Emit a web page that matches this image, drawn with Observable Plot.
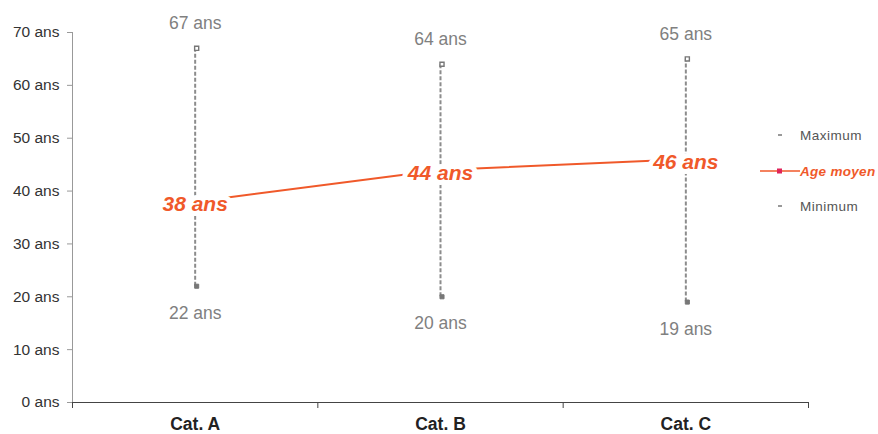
<!DOCTYPE html>
<html>
<head>
<meta charset="utf-8">
<script src="https://cdn.jsdelivr.net/npm/d3@7"></script>
<script src="https://cdn.jsdelivr.net/npm/@observablehq/plot@0.6"></script>
<style>
  html, body { margin: 0; padding: 0; background: #fff; }
  #wrap { position: relative; width: 878px; height: 434px; font-family: "Liberation Sans", Arial, sans-serif; }
  .leg { position: absolute; left: 758px; font-size: 13.5px; color: #555; display: flex; align-items: center; height: 16px; letter-spacing: 0.5px; }
  .leg .sw { width: 42px; position: relative; height: 16px; }
</style>
</head>
<body>
<div id="wrap"></div>
<script>
const categories = ["Cat. A", "Cat. B", "Cat. C"];
const maxValues = [67, 64, 65];
const meanValues = [38, 44, 46];
const minValues = [22, 20, 19];
const yTicks = [0, 10, 20, 30, 40, 50, 60, 70];

const orange = "#f0592a";
const gray = "#8c8c8c";

const data = categories.map((c, i) => ({
  cat: c, pos: i + 0.5, max: maxValues[i], mean: meanValues[i], min: minValues[i]
}));

const chart = Plot.plot({
  width: 878,
  height: 434,
  marginLeft: 72,
  marginRight: 70,
  marginTop: 32,
  marginBottom: 32,
  style: { fontFamily: "Liberation Sans, Arial, sans-serif", background: "#fff" },
  x: { type: "linear", domain: [0, categories.length], label: null },
  y: { domain: [0, 70], label: null },
  marks: [
    // y axis
    Plot.axisY({ ticks: yTicks, tickFormat: d => `${d} ans`, tickSize: 5, tickPadding: 8, fontSize: 15.5, color: "#333", stroke: "#999", label: null }),
    Plot.ruleX([0], { stroke: "#999", strokeWidth: 1 }),
    // x axis ticks at band edges
    Plot.axisX({ ticks: d3.range(categories.length + 1), tickFormat: () => "", tickSize: 6, stroke: "#444", label: null }),
    Plot.axisX({ ticks: data.map(d => d.pos), tickFormat: v => categories[Math.floor(v)], tickSize: 0, tickPadding: 15.5, fontSize: 17.5, fontWeight: "bold", color: "#222", label: null }),
    Plot.ruleY([0], { stroke: "#444", strokeWidth: 1.2 }),
    // range dashed lines
    Plot.ruleX(data, { x: "pos", y1: "min", y2: "max", stroke: gray, strokeWidth: 2, strokeDasharray: "4,2" }),
    Plot.dot(data, { x: "pos", y: "max", symbol: "square", r: 2.3, dx: 1.5, stroke: "#777", fill: "#fff", strokeWidth: 1.4 }),
    Plot.dot(data, { x: "pos", y: "min", symbol: "square", r: 2.3, dx: 1.5, stroke: "#777", fill: "#777", strokeWidth: 1 }),
    Plot.text(data, { x: "pos", y: "max", text: d => `${d.max} ans`, dy: -25, fontSize: 17.5, fill: "#808080" }),
    Plot.text(data, { x: "pos", y: "min", text: d => `${d.min} ans`, dy: 27, fontSize: 17.5, fill: "#808080" }),
    // mean line
    Plot.line(data, { x: "pos", y: "mean", stroke: orange, strokeWidth: 2 }),
    Plot.text(data, { x: "pos", y: "mean", text: d => `${d.mean} ans`, dy: 3, fontSize: 21, fontWeight: "bold", fontStyle: "italic", fill: orange, stroke: "#fff", strokeWidth: 10, paintOrder: "stroke" })
  ]
});

const wrap = document.getElementById("wrap");
wrap.appendChild(chart);

function legendItem(top, label, kind) {
  const el = document.createElement("div");
  el.className = "leg";
  el.style.top = (top - 8) + "px";
  const sw = document.createElement("div");
  sw.className = "sw";
  if (kind === "mean") {
    sw.innerHTML = `<svg width="42" height="16"><line x1="2" x2="42" y1="8" y2="8" stroke="${orange}" stroke-width="1.6"/><rect x="19" y="5.5" width="5" height="5" fill="#e0245a"/></svg>`;
    el.style.color = orange;
    el.style.fontWeight = "bold";
    el.style.fontStyle = "italic";
    el.style.letterSpacing = "0.3px";
  } else {
    sw.innerHTML = `<svg width="42" height="16"><line x1="20" x2="24" y1="8" y2="8" stroke="#999" stroke-width="2"/></svg>`;
  }
  const t = document.createElement("span");
  t.textContent = label;
  el.appendChild(sw);
  el.appendChild(t);
  wrap.appendChild(el);
}
legendItem(135, "Maximum", "max");
legendItem(171, "Age moyen", "mean");
legendItem(206, "Minimum", "min");
</script>
</body>
</html>
